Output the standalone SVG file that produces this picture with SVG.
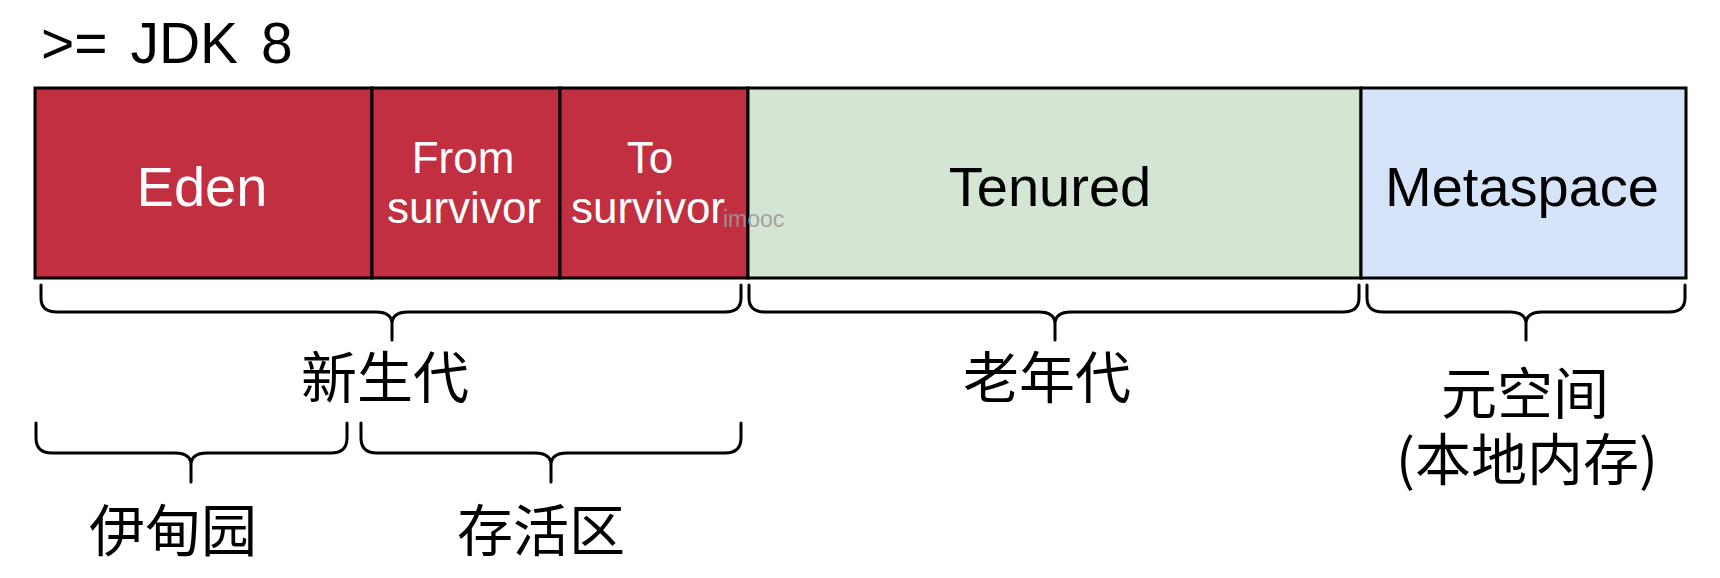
<svg xmlns="http://www.w3.org/2000/svg" width="1720" height="578" viewBox="0 0 1720 578">
<style>
.box{stroke:#000;stroke-width:3}
.young{fill:#C12F40}
.old{fill:#D4E5D3}
.meta{fill:#D6E4FA}
.lbl{font-family:"Liberation Sans",Arial,sans-serif;text-anchor:middle}
.w{fill:#fff}
.k{fill:#000}
.big{font-size:56px}
.mid{font-size:44px}
.cn{font-family:"Noto Sans CJK SC","Liberation Sans",sans-serif;font-size:56px;text-anchor:middle;fill:#000}
.brace{fill:none;stroke:#000;stroke-width:3;stroke-linecap:round;stroke-linejoin:round}
</style>
<rect width="1720" height="578" fill="#fff"/>
<text x="41" y="63" font-family="Liberation Sans,Arial,sans-serif" font-size="57" fill="#000" word-spacing="7">&gt;= JDK 8</text>

<g id="eden">
<rect class="box young" x="35" y="88" width="337" height="190"/>
<text class="lbl w big" x="202" y="206">Eden</text>
</g>
<g id="from">
<rect class="box young" x="372" y="88" width="188" height="190"/>
<text class="lbl w mid" x="463" y="173">From</text>
<text class="lbl w mid" x="464" y="223">survivor</text>
</g>
<g id="to">
<rect class="box young" x="560" y="88" width="188" height="190"/>
<text class="lbl w mid" x="650" y="173">To</text>
<text class="lbl w mid" x="648" y="223">survivor</text>
</g>
<g id="tenured">
<rect class="box old" x="748" y="88" width="613" height="190"/>
<text class="lbl k big" x="1050" y="206" font-size="57">Tenured</text>
</g>
<g id="metaspace">
<rect class="box meta" x="1361" y="88" width="325" height="190"/>
<text class="lbl k big" x="1522" y="206" font-size="58">Metaspace</text>
</g>
<text x="723" y="227" font-family="Liberation Sans,Arial,sans-serif" font-size="23" fill="#9a9a9a" fill-opacity="0.9">imooc</text>

<g id="braces">
<path class="brace" d="M41,285 L41,298 Q41,312 57,312 L376,312 Q392,312 392,324 L392,340 M392,324 Q392,312 408,312 L725,312 Q741,312 741,298 L741,285"/>
<path class="brace" d="M749,285 L749,298 Q749,312 765,312 L1039,312 Q1055,312 1055,324 L1055,340 M1055,324 Q1055,312 1071,312 L1343,312 Q1359,312 1359,298 L1359,285"/>
<path class="brace" d="M1367,285 L1367,298 Q1367,312 1383,312 L1510,312 Q1526,312 1526,324 L1526,340 M1526,324 Q1526,312 1542,312 L1669,312 Q1685,312 1685,298 L1685,285"/>
<path class="brace" d="M36,423 L36,438 Q36,453 52,453 L175,453 Q191,453 191,465 L191,482 M191,465 Q191,453 207,453 L331,453 Q347,453 347,438 L347,423"/>
<path class="brace" d="M361,423 L361,438 Q361,453 377,453 L535,453 Q551,453 551,465 L551,482 M551,465 Q551,453 567,453 L725,453 Q741,453 741,438 L741,423"/>
</g>

<g id="young-label"><text class="cn" x="385" y="398">新生代</text></g>
<g id="old-label"><text class="cn" x="1047" y="398">老年代</text></g>
<g id="meta-label">
<text class="cn" x="1525" y="414">元空间</text>
<text class="cn" x="1527" y="480">(本地内存)</text>
</g>
<g id="eden-label"><text class="cn" x="173" y="551">伊甸园</text></g>
<g id="survivor-label"><text class="cn" x="541" y="551">存活区</text></g>
</svg>
